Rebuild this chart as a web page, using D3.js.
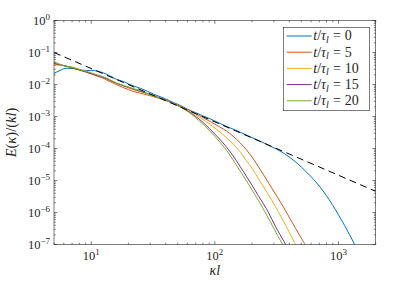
<!DOCTYPE html>
<html>
<head>
<meta charset="utf-8">
<script src="https://cdn.jsdelivr.net/npm/d3@7/dist/d3.min.js"></script>
<style>
  body { margin: 0; background: #fff; }
  svg { display: block; }
  text { font-family: "Liberation Serif", "DejaVu Serif", serif; fill: #262626; }
</style>
</head>
<body>
<svg id="chart"></svg>
<script>
// spectra: k values and log10 of E(k)/(kl)
var k_t0 = [5, 5.6, 6.3, 7.1, 8, 9, 10, 11.2, 12.6, 14, 16, 18, 20, 22.5, 25, 28, 32, 36, 40, 46, 53, 60, 70, 80, 90, 100, 112, 125, 160, 200, 250, 281, 316, 355, 398, 447, 501, 562, 631, 708, 794, 891, 1000, 1122, 1259, 1413];
var logE_t0 = [-1.65, -1.56, -1.49, -1.50, -1.54, -1.56, -1.56, -1.58, -1.64, -1.72, -1.84, -1.90, -1.98, -2.06, -2.12, -2.20, -2.30, -2.38, -2.45, -2.56, -2.66, -2.77, -2.88, -2.98, -3.06, -3.14, -3.23, -3.31, -3.49, -3.66, -3.83, -3.93, -4.02, -4.13, -4.26, -4.41, -4.58, -4.77, -4.97, -5.20, -5.46, -5.75, -6.07, -6.41, -6.77, -7.15];

var k_t5 = [5, 5.6, 6.3, 7.1, 8, 9, 10, 11.2, 12.6, 14, 16, 18, 20, 22.5, 25, 28, 32, 36, 40, 46, 53, 60, 70, 80, 90, 100, 112, 125, 140, 160, 180, 200, 226, 260, 290, 322, 360, 400, 450, 500, 540, 570];
var logE_t5 = [-1.36, -1.39, -1.43, -1.48, -1.55, -1.61, -1.67, -1.74, -1.81, -1.90, -2.00, -2.09, -2.16, -2.23, -2.27, -2.32, -2.38, -2.44, -2.50, -2.59, -2.68, -2.78, -2.91, -3.03, -3.14, -3.24, -3.35, -3.46, -3.61, -3.82, -4.04, -4.27, -4.58, -4.95, -5.25, -5.53, -5.84, -6.15, -6.50, -6.80, -7.03, -7.25];

var k_t10 = [5, 5.6, 6.3, 7.1, 8, 9, 10, 11.2, 12.6, 14, 16, 18, 20, 22.5, 25, 28, 32, 36, 40, 46, 53, 60, 70, 80, 90, 100, 112, 125, 140, 160, 180, 200, 226, 260, 290, 322, 360, 400, 441, 470];
var logE_t10 = [-1.39, -1.40, -1.42, -1.46, -1.52, -1.58, -1.64, -1.71, -1.78, -1.87, -1.97, -2.04, -2.11, -2.18, -2.23, -2.29, -2.36, -2.42, -2.48, -2.58, -2.69, -2.80, -2.95, -3.09, -3.23, -3.36, -3.51, -3.67, -3.86, -4.10, -4.38, -4.62, -4.95, -5.33, -5.63, -5.94, -6.28, -6.62, -6.94, -7.15];

var k_t15 = [5, 5.6, 6.3, 7.1, 8, 9, 10, 11.2, 12.6, 14, 16, 18, 20, 22.5, 25, 28, 32, 36, 40, 46, 53, 60, 70, 80, 90, 100, 112, 125, 140, 160, 180, 200, 226, 260, 290, 322, 353, 374, 400];
var logE_t15 = [-1.34, -1.38, -1.43, -1.48, -1.54, -1.60, -1.66, -1.72, -1.78, -1.86, -1.96, -2.03, -2.09, -2.16, -2.21, -2.27, -2.35, -2.42, -2.48, -2.59, -2.70, -2.82, -3.00, -3.18, -3.37, -3.55, -3.75, -3.97, -4.22, -4.56, -4.87, -5.15, -5.49, -5.87, -6.22, -6.56, -6.83, -7.0, -7.28];

var k_t20 = [5, 5.6, 6.3, 7.1, 8, 9, 10, 11.2, 12.6, 14, 16, 18, 20, 22.5, 25, 28, 32, 36, 40, 46, 53, 60, 70, 80, 90, 100, 112, 125, 140, 160, 180, 200, 226, 260, 290, 322, 353, 380];
var logE_t20 = [-1.29, -1.37, -1.43, -1.47, -1.53, -1.58, -1.64, -1.70, -1.76, -1.84, -1.95, -2.02, -2.08, -2.14, -2.19, -2.27, -2.35, -2.43, -2.49, -2.60, -2.71, -2.84, -3.04, -3.24, -3.43, -3.62, -3.84, -4.07, -4.35, -4.70, -5.01, -5.30, -5.63, -6.05, -6.39, -6.72, -7.0, -7.28];

// dashed reference line end points
var k_ref = [5, 2000];
var E_ref = [0.1, 4.6e-6];

var legendTimes = ['0', '5', '10', '15', '20'];
var colors = ['#0072BD', '#D95319', '#EDB120', '#7E2F8E', '#77AC30'];

var xTickExps = [1, 2, 3];
var yTickExps = [0, -1, -2, -3, -4, -5, -6, -7];

var svg, width, height, margin;

document.addEventListener('DOMContentLoaded', function () {
    margin = {top: 20.5, right: 39.3, bottom: 36.5, left: 54};
    width = 415 - margin.left - margin.right;
    height = 281 - margin.top - margin.bottom;

    var root = d3.select('#chart')
        .attr('width', 415)
        .attr('height', 281);

    svg = root.append('g')
        .attr('transform', `translate(${margin.left},${margin.top})`);

    var x = d3.scaleLog().domain([5, 2000]).range([0, width]);
    var y = d3.scaleLog().domain([1e-7, 1]).range([height, 0]);

    root.append('defs').append('clipPath').attr('id', 'clip')
        .append('rect').attr('width', width).attr('height', height);

    // minor + major ticks (inside, on all four sides)
    var xMinor = [];
    [1, 10, 100, 1000].forEach(function (d) {
        for (var i = 2; i <= 9; i++) {
            var v = d * i;
            if (v >= 5 && v <= 2000) xMinor.push(v);
        }
    });
    var yMinor = [];
    yTickExps.forEach(function (e) {
        for (var i = 2; i <= 9; i++) {
            var v = i * Math.pow(10, e);
            if (v <= 1 && e < 0) yMinor.push(v);
        }
    });
    var xMajor = xTickExps.map(e => Math.pow(10, e));
    var yMajor = yTickExps.map(e => Math.pow(10, e));

    var tickCol = '#262626';
    var ticks = svg.append('g').attr('stroke', tickCol).attr('stroke-width', 0.6);
    function xt(vals, len) {
        vals.forEach(function (v) {
            var px = x(v);
            ticks.append('line').attr('x1', px).attr('x2', px).attr('y1', height).attr('y2', height - len);
            ticks.append('line').attr('x1', px).attr('x2', px).attr('y1', 0).attr('y2', len);
        });
    }
    function yt(vals, len) {
        vals.forEach(function (v) {
            var py = y(v);
            ticks.append('line').attr('x1', 0).attr('x2', len).attr('y1', py).attr('y2', py);
            ticks.append('line').attr('x1', width).attr('x2', width - len).attr('y1', py).attr('y2', py);
        });
    }
    xt(xMinor, 1.8); xt(xMajor, 3.3);
    yt(yMinor, 1.8); yt(yMajor, 3.3);

    // curves
    var series = [
        {k: k_t0, e: logE_t0},
        {k: k_t5, e: logE_t5},
        {k: k_t10, e: logE_t10},
        {k: k_t15, e: logE_t15},
        {k: k_t20, e: logE_t20}
    ];
    var line = d3.line()
        .x(d => x(d[0]))
        .y(d => y(d[1]))
        .curve(d3.curveMonotoneX);

    var plot = svg.append('g').attr('clip-path', 'url(#clip)');
    series.forEach(function (s, i) {
        var pts = s.k.map((kv, j) => [kv, Math.pow(10, s.e[j])]);
        plot.append('path')
            .attr('d', line(pts))
            .attr('fill', 'none')
            .attr('stroke', colors[i])
            .attr('stroke-width', 1);
    });

    plot.append('path')
        .attr('d', d3.line().x(d => x(d[0])).y(d => y(d[1]))(k_ref.map((kv, j) => [kv, E_ref[j]])))
        .attr('fill', 'none')
        .attr('stroke', '#000')
        .attr('stroke-width', 1)
        .attr('stroke-dasharray', '7,4.5');

    // box
    svg.append('rect')
        .attr('width', width).attr('height', height)
        .attr('fill', 'none').attr('stroke', tickCol).attr('stroke-width', 0.6);

    // tick labels
    xMajor.forEach(function (v, i) {
        var t = svg.append('text')
            .attr('x', x(v))
            .attr('y', height + 15)
            .attr('text-anchor', 'middle')
            .style('font-size', '12.5px');
        t.append('tspan').text('10');
        t.append('tspan').attr('dy', -5).style('font-size', '9px').text(xTickExps[i]);
    });
    yMajor.forEach(function (v, i) {
        var t = svg.append('text')
            .attr('x', -4)
            .attr('y', y(v) + 4.5)
            .attr('text-anchor', 'end')
            .style('font-size', '12.5px');
        t.append('tspan').text('10');
        t.append('tspan').attr('dy', -5).style('font-size', '9px')
            .text(yTickExps[i] < 0 ? '\u2212' + (-yTickExps[i]) : yTickExps[i]);
    });

    // axis labels
    svg.append('text')
        .attr('x', width / 2)
        .attr('y', height + 30.5)
        .attr('text-anchor', 'middle')
        .style('font-size', '14px')
        .style('font-style', 'italic')
        .text('\u03BAl');

    var yl = svg.append('text')
        .attr('transform', `translate(${16 - margin.left},${height / 2}) rotate(-90)`)
        .attr('text-anchor', 'middle')
        .style('font-size', '14.5px');
    yl.append('tspan').style('font-style', 'italic').text('E');
    yl.append('tspan').text('(');
    yl.append('tspan').style('font-style', 'italic').text('\u03BA');
    yl.append('tspan').text(')/(');
    yl.append('tspan').style('font-style', 'italic').text('kl');
    yl.append('tspan').text(')');

    // legend
    var lg = svg.append('g').attr('transform', `translate(${283.3 - margin.left},${27.3 - margin.top})`);
    lg.append('rect')
        .attr('width', 86).attr('height', 83.4)
        .attr('fill', '#fff').attr('stroke', tickCol).attr('stroke-width', 0.6);
    legendTimes.forEach(function (t, i) {
        var cy = 8.7 + i * 16.2;
        lg.append('line')
            .attr('x1', 3.4).attr('x2', 28.4)
            .attr('y1', cy).attr('y2', cy)
            .attr('stroke', colors[i]).attr('stroke-width', 1);
        var tx = lg.append('text')
            .attr('x', 30)
            .attr('y', cy + 4.5)
            .style('font-size', '14px');
        tx.append('tspan').style('font-style', 'italic').text('t');
        tx.append('tspan').text('/');
        tx.append('tspan').style('font-style', 'italic').text('\u03C4');
        tx.append('tspan').style('font-style', 'italic').style('font-size', '10px').attr('dy', 2.5).text('l');
        tx.append('tspan').attr('dy', -2.5).attr('dx', 4).text('=');
        tx.append('tspan').attr('dx', 4).text(t);
    });
});
</script>
</body>
</html>
